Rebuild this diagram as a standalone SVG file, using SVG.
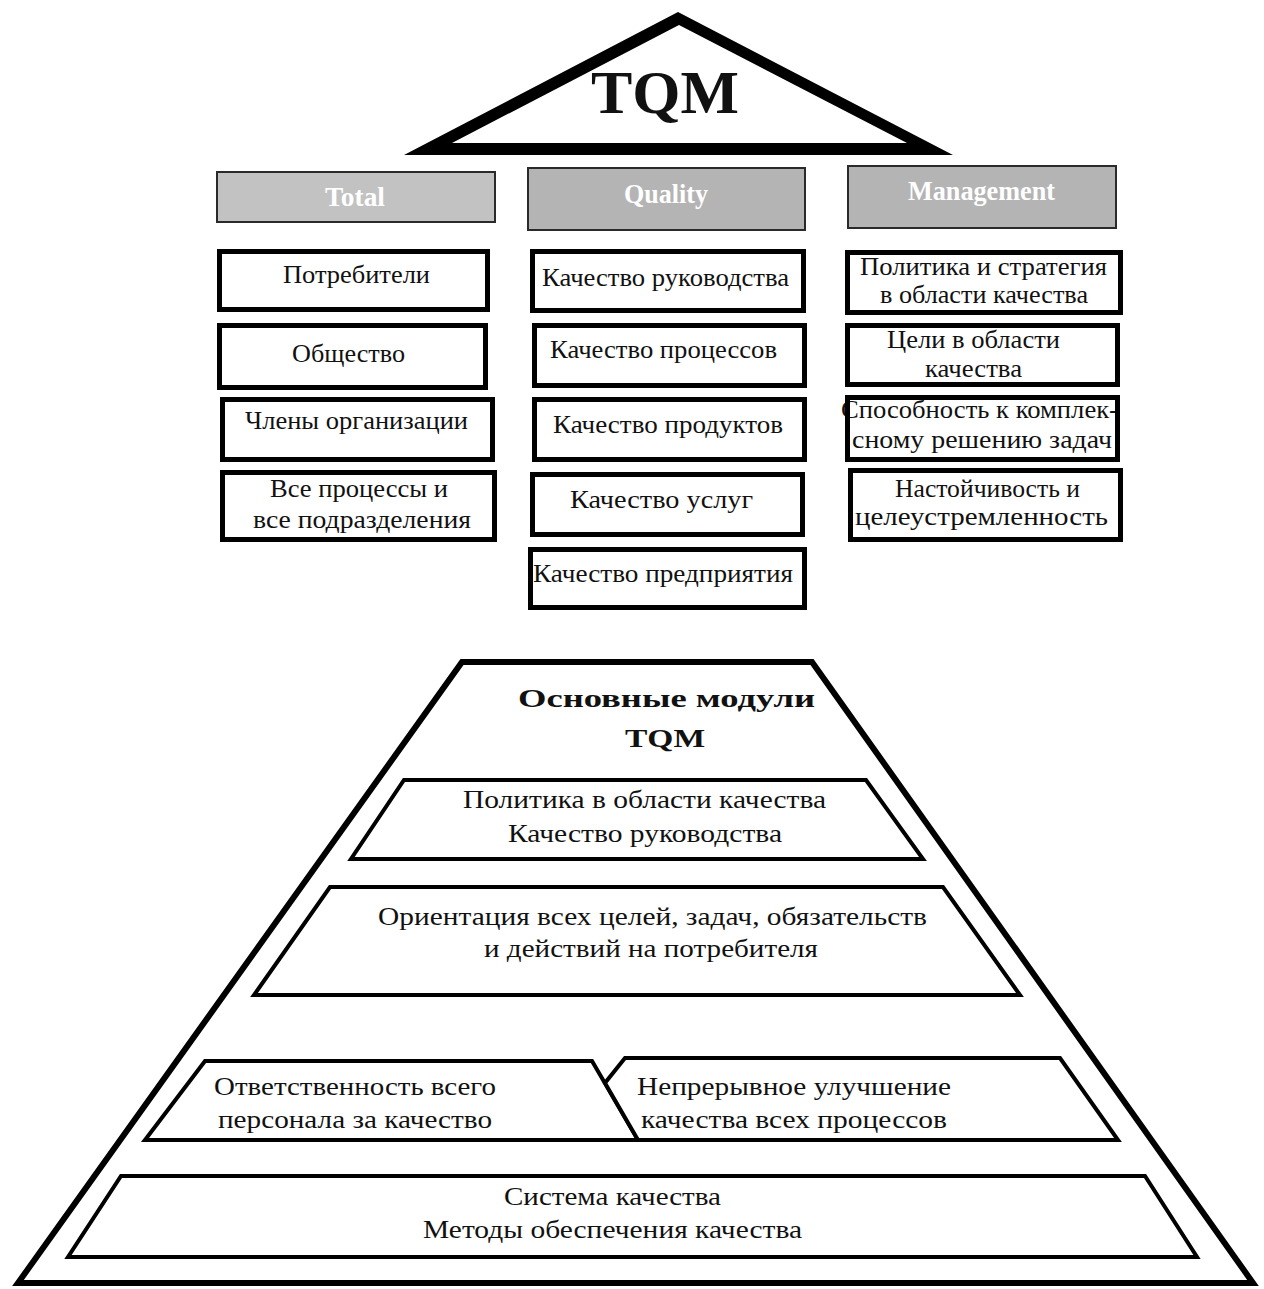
<svg xmlns="http://www.w3.org/2000/svg" width="1264" height="1289" viewBox="0 0 1264 1289">
  <style>
    text { font-family: "Liberation Serif", "Times New Roman", serif; fill: #111; }
    .hdr rect { fill: #b4b4b4; stroke: #2a2a2a; stroke-width: 2; }
    .hdr text { font-size: 27px; font-weight: bold; fill: #ffffff; }
    .box rect { fill: #ffffff; stroke: #000; stroke-width: 5; }
    .box text { font-size: 25px; }
    .tier polygon { fill: #ffffff; stroke: #000; stroke-width: 4; stroke-linejoin: miter; }
    .tier text { font-size: 26px; }
    .title { font-weight: bold; }
  </style>

  <rect width="1264" height="1289" fill="#ffffff"/>

  <!-- Roof -->
  <g id="roof">
    <path d="M678,12 L953,155 L404,155 Z M679,25 L452,143 L907,143 Z" fill="#000" fill-rule="evenodd"/>
    <text class="title" x="591" y="113" font-size="62" textLength="148" lengthAdjust="spacingAndGlyphs">TQM</text>
  </g>

  <!-- Column headers -->
  <g id="hdr-total" class="hdr">
    <rect x="217" y="172" width="278" height="50" style="fill:#c2c2c2"/>
    <text x="325" y="206" textLength="60" lengthAdjust="spacingAndGlyphs">Total</text>
  </g>
  <g id="hdr-quality" class="hdr">
    <rect x="528" y="168" width="277" height="62"/>
    <text x="624" y="203" textLength="84" lengthAdjust="spacingAndGlyphs">Quality</text>
  </g>
  <g id="hdr-management" class="hdr">
    <rect x="848" y="166" width="268" height="62"/>
    <text x="908" y="200" textLength="147" lengthAdjust="spacingAndGlyphs">Management</text>
  </g>

  <!-- Total column -->
  <g id="t1" class="box">
    <rect x="219.5" y="251.5" width="268" height="58"/>
    <text x="283" y="283" textLength="147" lengthAdjust="spacingAndGlyphs">Потребители</text>
  </g>
  <g id="t2" class="box">
    <rect x="219.5" y="325.5" width="266" height="62"/>
    <text x="292" y="362" textLength="113" lengthAdjust="spacingAndGlyphs">Общество</text>
  </g>
  <g id="t3" class="box">
    <rect x="222.5" y="399.5" width="270" height="60"/>
    <text x="245" y="429" textLength="223" lengthAdjust="spacingAndGlyphs">Члены организации</text>
  </g>
  <g id="t4" class="box">
    <rect x="222.5" y="472.5" width="272" height="67"/>
    <text x="270" y="497" textLength="178" lengthAdjust="spacingAndGlyphs">Все процессы и</text>
    <text x="253" y="528" textLength="218" lengthAdjust="spacingAndGlyphs">все подразделения</text>
  </g>

  <!-- Quality column -->
  <g id="q1" class="box">
    <rect x="532.5" y="251.5" width="271" height="59"/>
    <text x="542" y="286" textLength="247" lengthAdjust="spacingAndGlyphs">Качество руководства</text>
  </g>
  <g id="q2" class="box">
    <rect x="534.5" y="325.5" width="270" height="60"/>
    <text x="550" y="358" textLength="227" lengthAdjust="spacingAndGlyphs">Качество процессов</text>
  </g>
  <g id="q3" class="box">
    <rect x="534.5" y="399.5" width="270" height="60"/>
    <text x="553" y="433" textLength="230" lengthAdjust="spacingAndGlyphs">Качество продуктов</text>
  </g>
  <g id="q4" class="box">
    <rect x="532.5" y="474.5" width="270" height="60"/>
    <text x="570" y="508" textLength="183" lengthAdjust="spacingAndGlyphs">Качество услуг</text>
  </g>
  <g id="q5" class="box">
    <rect x="530.5" y="549.5" width="274" height="58"/>
    <text x="533" y="582" textLength="260" lengthAdjust="spacingAndGlyphs">Качество предприятия</text>
  </g>

  <!-- Management column -->
  <g id="m1" class="box">
    <rect x="847.5" y="252.5" width="273" height="60"/>
    <text x="860" y="275" textLength="247" lengthAdjust="spacingAndGlyphs">Политика и стратегия</text>
    <text x="880" y="303" textLength="208" lengthAdjust="spacingAndGlyphs">в области качества</text>
  </g>
  <g id="m2" class="box">
    <rect x="847.5" y="325.5" width="270" height="59"/>
    <text x="887" y="348" textLength="173" lengthAdjust="spacingAndGlyphs">Цели в области</text>
    <text x="925" y="377" textLength="97" lengthAdjust="spacingAndGlyphs">качества</text>
  </g>
  <g id="m3" class="box">
    <rect x="847.5" y="397.5" width="270" height="62"/>
    <text x="841" y="418" textLength="277" lengthAdjust="spacingAndGlyphs">Способность к комплек-</text>
    <text x="852" y="448" textLength="260" lengthAdjust="spacingAndGlyphs">сному решению задач</text>
    <!-- border redrawn on top so the overhanging letters tuck under it -->
    <rect x="847.5" y="397.5" width="270" height="62" style="fill:none"/>
  </g>
  <g id="m4" class="box">
    <rect x="850.5" y="470.5" width="270" height="69"/>
    <text x="895" y="497" textLength="185" lengthAdjust="spacingAndGlyphs">Настойчивость и</text>
    <text x="855" y="525" textLength="253" lengthAdjust="spacingAndGlyphs">целеустремленность</text>
  </g>

  <!-- Pyramid of core modules -->
  <g id="pyramid" class="tier">
    <polygon points="462,662 812,662 1253,1283 18,1283" style="stroke-width:6"/>
    <text class="title" x="518" y="707" font-size="30" textLength="297" lengthAdjust="spacingAndGlyphs">Основные модули</text>
    <text class="title" x="625" y="747" font-size="34" textLength="80" lengthAdjust="spacingAndGlyphs">TQM</text>
  </g>
  <g id="tier-policy" class="tier">
    <polygon points="404,780 866,780 923,859 351,859"/>
    <text x="463" y="808" textLength="363" lengthAdjust="spacingAndGlyphs">Политика в области качества</text>
    <text x="508" y="842" textLength="274" lengthAdjust="spacingAndGlyphs">Качество руководства</text>
  </g>
  <g id="tier-customer" class="tier">
    <polygon points="330,887 943,887 1020,995 254,995"/>
    <text x="378" y="925" textLength="549" lengthAdjust="spacingAndGlyphs">Ориентация всех целей, задач, обязательств</text>
    <text x="484" y="957" textLength="334" lengthAdjust="spacingAndGlyphs">и действий на потребителя</text>
  </g>
  <g id="tier-responsibility" class="tier">
    <polygon points="205,1061 592,1061 638,1140 145,1140"/>
    <text x="214" y="1095" textLength="282" lengthAdjust="spacingAndGlyphs">Ответственность всего</text>
    <text x="218" y="1128" textLength="274" lengthAdjust="spacingAndGlyphs">персонала за качество</text>
  </g>
  <g id="tier-improvement" class="tier">
    <polygon points="625,1058 1060,1058 1118,1140 638,1140 605,1083"/>
    <text x="637" y="1095" textLength="314" lengthAdjust="spacingAndGlyphs">Непрерывное улучшение</text>
    <text x="641" y="1128" textLength="306" lengthAdjust="spacingAndGlyphs">качества всех процессов</text>
  </g>
  <g id="tier-system" class="tier">
    <polygon points="121,1176 1145,1176 1197,1257 68,1257"/>
    <text x="504" y="1205" textLength="217" lengthAdjust="spacingAndGlyphs">Система качества</text>
    <text x="423" y="1238" textLength="379" lengthAdjust="spacingAndGlyphs">Методы обеспечения качества</text>
  </g>
</svg>
